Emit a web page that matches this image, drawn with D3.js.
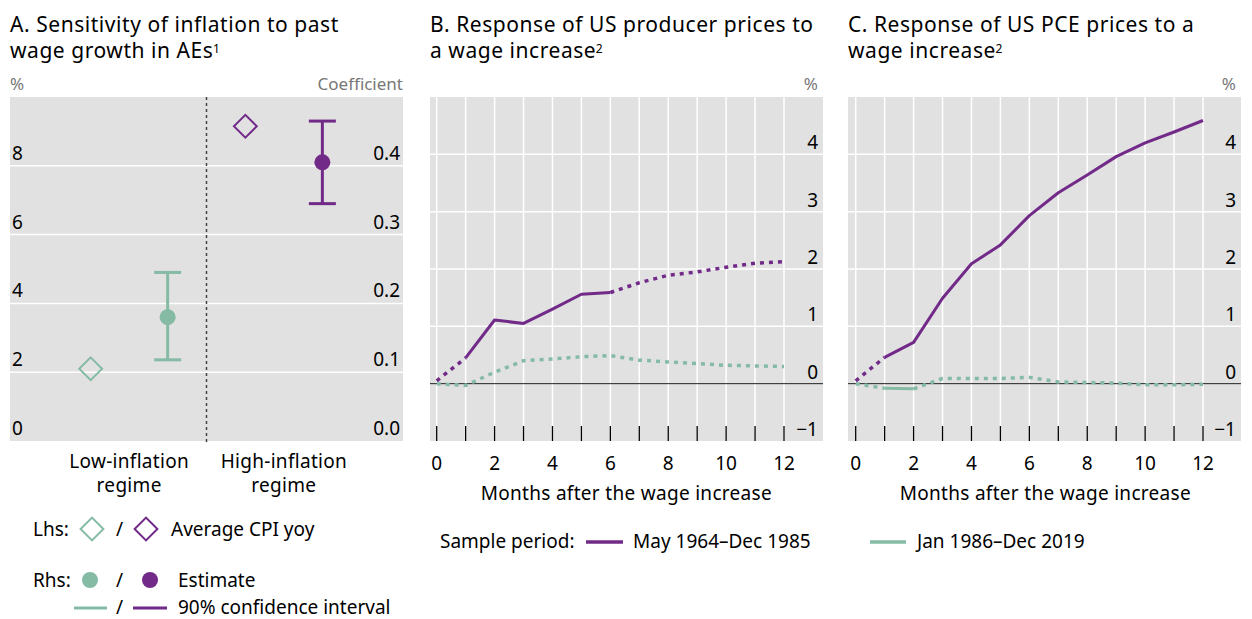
<!DOCTYPE html>
<html>
<head>
<meta charset="utf-8">
<script src="https://cdn.jsdelivr.net/npm/d3@7"></script>
<style>
  body { margin: 0; background: #fff; }
  svg { font-family: 'Noto Sans', sans-serif; }
</style>
</head>
<body>
<div id="chart"></div>
<script>
'use strict'

// panel A data
const regimes = ['Low-inflation', 'High-inflation'];
const avgCpi = [2.1, 9.15];          // lhs, %
const estimate = [0.18, 0.405];      // rhs, coefficient
const ciLow = [0.118, 0.345];
const ciHigh = [0.245, 0.465];
const lhsTicks = [0, 2, 4, 6, 8];
const rhsTicks = [0, 0.1, 0.2, 0.3, 0.4];

// panels B and C data
const months = [0, 1, 2, 3, 4, 5, 6, 7, 8, 9, 10, 11, 12];
const ppiHigh = [0.05, 0.45, 1.11, 1.05, 1.30, 1.56, 1.59, 1.76, 1.89, 1.95, 2.03, 2.10, 2.13];
const ppiHighSig = [0, 1, 1, 1, 1, 1, 1, 0, 0, 0, 0, 0, 0];
const ppiLow = [0, -0.03, 0.20, 0.40, 0.43, 0.47, 0.49, 0.41, 0.38, 0.35, 0.32, 0.31, 0.30];
const ppiLowSig = [0, 0, 0, 0, 0, 0, 0, 0, 0, 0, 0, 0, 0];
const pceHigh = [0.05, 0.46, 0.72, 1.49, 2.09, 2.42, 2.93, 3.33, 3.64, 3.96, 4.20, 4.39, 4.59];
const pceHighSig = [0, 1, 1, 1, 1, 1, 1, 1, 1, 1, 1, 1, 1];
const pceLow = [0, -0.08, -0.09, 0.09, 0.09, 0.09, 0.11, 0.03, 0.02, 0.01, -0.02, -0.02, -0.01];
const pceLowSig = [0, 1, 1, 0, 0, 0, 0, 0, 0, 0, 0, 0, 0];
const pctTicks = [-1, 0, 1, 2, 3, 4];
const monthTicks = [0, 2, 4, 6, 8, 10, 12];

const PURPLE = '#722a89';
const GREEN = '#85bba5';
const BG = '#e1e1e1';
const FS = 19;

const svg = d3.select('#chart').append('svg')
  .attr('width', 1252)
  .attr('height', 619)

const plotTop = 97, plotBottom = 441;

function title(x, lines, sup) {
  let last
  lines.forEach((l, i) => {
    last = svg.append('text').attr('x', x).attr('y', 32 + i * 26)
      .attr('font-size', 21).attr('letter-spacing', 0.55).attr('fill', '#000')
      .text(l)
  })
  const w = last.node().getComputedTextLength()
  svg.append('text').attr('x', x + w - 0.5).attr('y', 53)
    .attr('font-size', 12).text(sup)
}

// ---------- Panel A ----------
title(10, ['A. Sensitivity of inflation to past', 'wage growth in AEs'], '1')

const aLeft = 10, aRight = 403;
const yL = d3.scaleLinear().domain([0, 10]).range([plotBottom, plotTop])
const yR = d3.scaleLinear().domain([0, 0.5]).range([plotBottom, plotTop])
const xA = d3.scalePoint().domain(regimes).range([aLeft, aRight]).padding(0.77)
const off = 38.5;

const gA = svg.append('g')
gA.append('rect').attr('x', aLeft).attr('y', plotTop)
  .attr('width', aRight - aLeft).attr('height', plotBottom - plotTop).attr('fill', BG)

gA.selectAll('.grid').data(lhsTicks.filter(d => d > 0)).enter()
  .append('line')
    .attr('x1', aLeft).attr('x2', aRight)
    .attr('y1', d => yL(d)).attr('y2', d => yL(d))
    .attr('stroke', '#fff').attr('stroke-width', 1.5)

gA.selectAll('.lt').data(lhsTicks).enter()
  .append('text')
    .attr('x', 12).attr('y', d => yL(d) - 6)
    .attr('font-size', FS).text(d => d)

gA.selectAll('.rt').data(rhsTicks).enter()
  .append('text')
    .attr('x', 400).attr('y', d => yR(d) - 6)
    .attr('text-anchor', 'end')
    .attr('font-size', FS).text(d => d3.format('.1f')(d))

gA.append('text').attr('x', 10).attr('y', 90).attr('font-size', 17)
  .attr('fill', '#777').text('%')
gA.append('text').attr('x', 403).attr('y', 90).attr('font-size', 17)
  .attr('fill', '#777').attr('text-anchor', 'end').text('Coefficient')

const midA = (xA(regimes[0]) + xA(regimes[1])) / 2
gA.append('line').attr('x1', midA).attr('x2', midA)
  .attr('y1', plotTop).attr('y2', plotBottom + 4)
  .attr('stroke', '#444').attr('stroke-width', 1.5).attr('stroke-dasharray', '3,3')

const colA = [GREEN, PURPLE]
const diamond = d3.symbol().type(d3.symbolSquare).size(260)

regimes.forEach((r, i) => {
  const cx = xA(r)
  gA.append('path')
    .attr('d', diamond())
    .attr('transform', `translate(${cx - off},${yL(avgCpi[i])}) rotate(45)`)
    .attr('fill', 'none').attr('stroke', colA[i]).attr('stroke-width', 2)
  const ex = cx + off
  gA.append('line').attr('x1', ex).attr('x2', ex)
    .attr('y1', yR(ciLow[i])).attr('y2', yR(ciHigh[i]))
    .attr('stroke', colA[i]).attr('stroke-width', 3)
  ;[ciLow[i], ciHigh[i]].forEach(v => {
    gA.append('line').attr('x1', ex - 13.5).attr('x2', ex + 13.5)
      .attr('y1', yR(v)).attr('y2', yR(v))
      .attr('stroke', colA[i]).attr('stroke-width', 3)
  })
  gA.append('circle').attr('cx', ex).attr('cy', yR(estimate[i]))
    .attr('r', 8).attr('fill', colA[i])

  const lab = gA.append('text').attr('x', cx).attr('y', 468)
    .attr('text-anchor', 'middle').attr('font-size', FS).attr('letter-spacing', 0.3)
  lab.append('tspan').attr('x', cx).text(r)
  lab.append('tspan').attr('x', cx).attr('dy', 24).text('regime')
})

// panel A legend
const lg = svg.append('g').attr('font-size', FS)
lg.append('text').attr('x', 33).attr('y', 536).text('Lhs:')
lg.append('path').attr('d', diamond())
  .attr('transform', 'translate(92,529) rotate(45)')
  .attr('fill', 'none').attr('stroke', GREEN).attr('stroke-width', 2)
lg.append('text').attr('x', 116).attr('y', 536).text('/')
lg.append('path').attr('d', diamond())
  .attr('transform', 'translate(146,529) rotate(45)')
  .attr('fill', 'none').attr('stroke', PURPLE).attr('stroke-width', 2)
lg.append('text').attr('x', 171).attr('y', 536).text('Average CPI yoy')

lg.append('text').attr('x', 33).attr('y', 587).text('Rhs:')
lg.append('circle').attr('cx', 90).attr('cy', 580).attr('r', 8).attr('fill', GREEN)
lg.append('text').attr('x', 116).attr('y', 587).text('/')
lg.append('circle').attr('cx', 150).attr('cy', 580).attr('r', 8).attr('fill', PURPLE)
lg.append('text').attr('x', 178).attr('y', 587).text('Estimate')

lg.append('line').attr('x1', 74).attr('x2', 107).attr('y1', 608).attr('y2', 608)
  .attr('stroke', GREEN).attr('stroke-width', 3)
lg.append('text').attr('x', 116).attr('y', 614).text('/')
lg.append('line').attr('x1', 133).attr('x2', 167).attr('y1', 608).attr('y2', 608)
  .attr('stroke', PURPLE).attr('stroke-width', 3)
lg.append('text').attr('x', 178).attr('y', 614).text('90% confidence interval')

// ---------- Panels B and C ----------
function drawIrf(left, right, x0, ttl, series) {
  title(left, ttl, '2')
  const g = svg.append('g')
  const x = d3.scaleLinear().domain([0, 12]).range([x0, x0 + 347.3])
  const y = d3.scaleLinear().domain([-1, 5]).range([plotBottom, plotTop])

  g.append('rect').attr('x', left).attr('y', plotTop)
    .attr('width', right - left).attr('height', plotBottom - plotTop).attr('fill', BG)

  g.selectAll('.vg').data(months).enter()
    .append('line')
      .attr('x1', d => x(d)).attr('x2', d => x(d))
      .attr('y1', plotTop).attr('y2', plotBottom)
      .attr('stroke', '#fff').attr('stroke-width', 1.5)
  g.selectAll('.hg').data(pctTicks.filter(d => d > 0)).enter()
    .append('line')
      .attr('x1', left).attr('x2', right)
      .attr('y1', d => y(d)).attr('y2', d => y(d))
      .attr('stroke', '#fff').attr('stroke-width', 1.5)

  g.append('line').attr('x1', left).attr('x2', right)
    .attr('y1', y(0)).attr('y2', y(0))
    .attr('stroke', '#222').attr('stroke-width', 1)

  g.selectAll('.tk').data(months).enter()
    .append('line')
      .attr('x1', d => x(d)).attr('x2', d => x(d))
      .attr('y1', plotBottom - 15).attr('y2', plotBottom)
      .attr('stroke', '#000').attr('stroke-width', 1.3)

  g.selectAll('.yt').data(pctTicks).enter()
    .append('text')
      .attr('x', right - 5).attr('y', d => y(d) - 5)
      .attr('text-anchor', 'end').attr('font-size', FS)
      .text(d => d < 0 ? '\u2212' + Math.abs(d) : d)
  g.append('text').attr('x', right - 5).attr('y', 90).attr('font-size', 17)
    .attr('fill', '#777').attr('text-anchor', 'end').text('%')

  g.selectAll('.xt').data(monthTicks).enter()
    .append('text')
      .attr('x', d => x(d)).attr('y', 470)
      .attr('text-anchor', 'middle').attr('font-size', FS).text(d => d)
  g.append('text').attr('x', x(6) + 16).attr('y', 500)
    .attr('text-anchor', 'middle').attr('font-size', FS).attr('letter-spacing', 0.3)
    .text('Months after the wage increase')

  const line = d3.line().x(d => x(d[0])).y(d => y(d[1]))
  series.forEach(s => {
    // split the series into runs of solid (significant) and dotted segments
    let runs = []
    for (let i = 0; i < months.length - 1; i++) {
      const solid = s.sig[i] && s.sig[i + 1] ? true : false
      const seg = [[months[i], s.values[i]], [months[i + 1], s.values[i + 1]]]
      const last = runs[runs.length - 1]
      if (last && last.solid === solid) last.pts.push(seg[1])
      else runs.push({solid, pts: seg})
    }
    g.selectAll(null).data(runs).enter()
      .append('path')
        .attr('d', d => line(d.pts))
        .attr('fill', 'none')
        .attr('stroke', s.color)
        .attr('stroke-width', d => d.solid ? 3 : 3.5)
        .attr('stroke-dasharray', d => d.solid ? null : '4,5')
        .attr('stroke-linejoin', 'round')
  })
}

drawIrf(430, 823, 436.7, ['B. Response of US producer prices to', 'a wage increase'], [
  {values: ppiLow, sig: ppiLowSig, color: GREEN},
  {values: ppiHigh, sig: ppiHighSig, color: PURPLE},
])
drawIrf(848, 1241, 855.7, ['C. Response of US PCE prices to a', 'wage increase'], [
  {values: pceLow, sig: pceLowSig, color: GREEN},
  {values: pceHigh, sig: pceHighSig, color: PURPLE},
])

// legend for B and C
const lb = svg.append('g').attr('font-size', FS)
lb.append('text').attr('x', 440).attr('y', 548).text('Sample period:')
lb.append('line').attr('x1', 586).attr('x2', 623).attr('y1', 542).attr('y2', 542)
  .attr('stroke', PURPLE).attr('stroke-width', 3.5)
lb.append('text').attr('x', 633).attr('y', 548).text('May 1964\u2013Dec 1985')
lb.append('line').attr('x1', 870).attr('x2', 906).attr('y1', 542).attr('y2', 542)
  .attr('stroke', GREEN).attr('stroke-width', 3.5)
lb.append('text').attr('x', 917).attr('y', 548).text('Jan 1986\u2013Dec 2019')
</script>
</body>
</html>
